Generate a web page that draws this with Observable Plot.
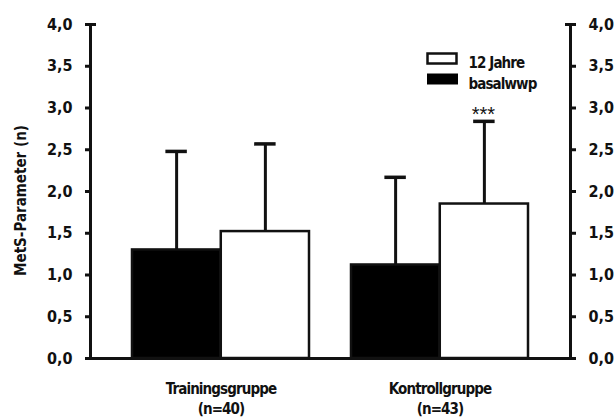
<!DOCTYPE html>
<html>
<head>
<meta charset="utf-8">
<script src="https://cdn.jsdelivr.net/npm/d3@7"></script>
<script src="https://cdn.jsdelivr.net/npm/@observablehq/plot@0.6"></script>
<style>
  html, body { margin: 0; padding: 0; background: #fff; }
  g[aria-label="x-axis tick label"] text, text.tight { letter-spacing: -0.9px; }
</style>
</head>
<body>
<div id="chart"></div>
<script>
// ---- data ----
const groups = ["Trainingsgruppe", "Kontrollgruppe"];
const groupN = ["(n=40)", "(n=43)"];
const seriesNames = ["basalwwp", "12 Jahre"];
const basalMeans = [1.30, 1.12];
const basalUpper = [2.48, 2.17];
const jahreMeans = [1.52, 1.85];
const jahreUpper = [2.57, 2.84];
const significance = ["", "***"];
const yTicks = [0, 0.5, 1, 1.5, 2, 2.5, 3, 3.5, 4];
const yTitle = "MetS-Parameter (n)";

const basalRows = groups.map((g, i) => ({group: g, mean: basalMeans[i], upper: basalUpper[i]}));
const jahreRows = groups.map((g, i) => ({group: g, mean: jahreMeans[i], upper: jahreUpper[i], sig: significance[i]}));

// ---- layout ----
const W = 614, H = 418;
const mL = 90, mR = 44, mT = 24, mB = 60;
const pad = 0.19;
const bw = d3.scaleBand(groups, [mL, W - mR]).padding(pad).bandwidth();
const half = bw / 2, q = bw / 4, cap = 11;

const font = "'DejaVu Sans Condensed', 'Liberation Sans Narrow', sans-serif";
const fmt = d => d.toFixed(1).replace(".", ",");

const rectSym = (w, h) => ({draw(ctx) { ctx.rect(-w / 2, -h / 2, w, h); }});

const chart = Plot.plot({
  width: W, height: H,
  marginLeft: mL, marginRight: mR, marginTop: mT, marginBottom: mB,
  style: {fontFamily: font, fontSize: "15px", fontWeight: "bold", color: "#111", background: "#fff"},
  x: {type: "band", domain: groups, padding: pad, label: null},
  y: {domain: [0, 4], label: null},
  marks: [
    // error bars
    Plot.ruleX(basalRows, {x: "group", y1: "mean", y2: "upper", dx: -q, strokeWidth: 3, stroke: "#111"}),
    Plot.ruleX(jahreRows, {x: "group", y1: "mean", y2: "upper", dx: q, strokeWidth: 3, stroke: "#111"}),
    Plot.tickY(basalRows, {x: "group", y: "upper", insetLeft: q - cap, insetRight: bw - q - cap, strokeWidth: 3.5, stroke: "#111"}),
    Plot.tickY(jahreRows, {x: "group", y: "upper", insetLeft: bw - q - cap, insetRight: q - cap, strokeWidth: 3.5, stroke: "#111"}),
    // bars
    Plot.barY(basalRows, {x: "group", y: "mean", insetRight: half, fill: "#000", stroke: "#111", strokeWidth: 2.5}),
    Plot.barY(jahreRows, {x: "group", y: "mean", insetLeft: half, fill: "#fff", stroke: "#111", strokeWidth: 2.5}),
    // significance
    Plot.text(jahreRows, {x: "group", y: "upper", text: "sig", dx: q - 1, dy: -7, fontWeight: "normal", fontFamily: "'Liberation Sans', sans-serif", fontSize: 20}),
    // axes
    Plot.ruleY([0], {strokeWidth: 3, stroke: "#111"}),
    Plot.frame({anchor: "left", strokeWidth: 3, stroke: "#111"}),
    Plot.frame({anchor: "right", strokeWidth: 3, stroke: "#111"}),
    Plot.axisY({anchor: "left", ticks: yTicks, tickSize: 5, tickPadding: 13, tickFormat: fmt, strokeWidth: 3, fontSize: 16, label: null}),
    Plot.axisY({anchor: "right", ticks: yTicks, tickSize: 5, tickPadding: 13, tickFormat: fmt, strokeWidth: 3, fontSize: 16, label: null}),
    Plot.axisY({anchor: "left", ticks: [4], tickSize: -6, tickFormat: () => "", strokeWidth: 3, label: null}),
    Plot.axisY({anchor: "right", ticks: [4], tickSize: -6, tickFormat: () => "", strokeWidth: 3, label: null}),
    Plot.axisX({tickSize: 0, tickPadding: 22, tickFormat: d => d + "\n" + groupN[groups.indexOf(d)], lineHeight: 1.3, label: null}),
    // y title
    Plot.text([yTitle], {frameAnchor: "left", textAnchor: "middle", dx: -69, dy: 9, rotate: -90}),
    // legend
    Plot.dot([seriesNames[1]], {frameAnchor: "top-left", dx: 351.5, dy: 34, symbol: rectSym(29, 10), fill: "#fff", stroke: "#111", strokeWidth: 2.5}),
    Plot.dot([seriesNames[0]], {frameAnchor: "top-left", dx: 352, dy: 54.5, symbol: rectSym(31, 11), fill: "#000", stroke: "none"}),
    Plot.text([seriesNames[1]], {frameAnchor: "top-left", dx: 378, dy: 33, textAnchor: "start"}),
    Plot.text([seriesNames[0]], {frameAnchor: "top-left", dx: 378, dy: 54, textAnchor: "start"})
  ]
});
d3.select(chart).selectAll("text").filter(function () { return seriesNames.includes(this.textContent); }).classed("tight", true);
document.getElementById("chart").appendChild(chart);
</script>
</body>
</html>
